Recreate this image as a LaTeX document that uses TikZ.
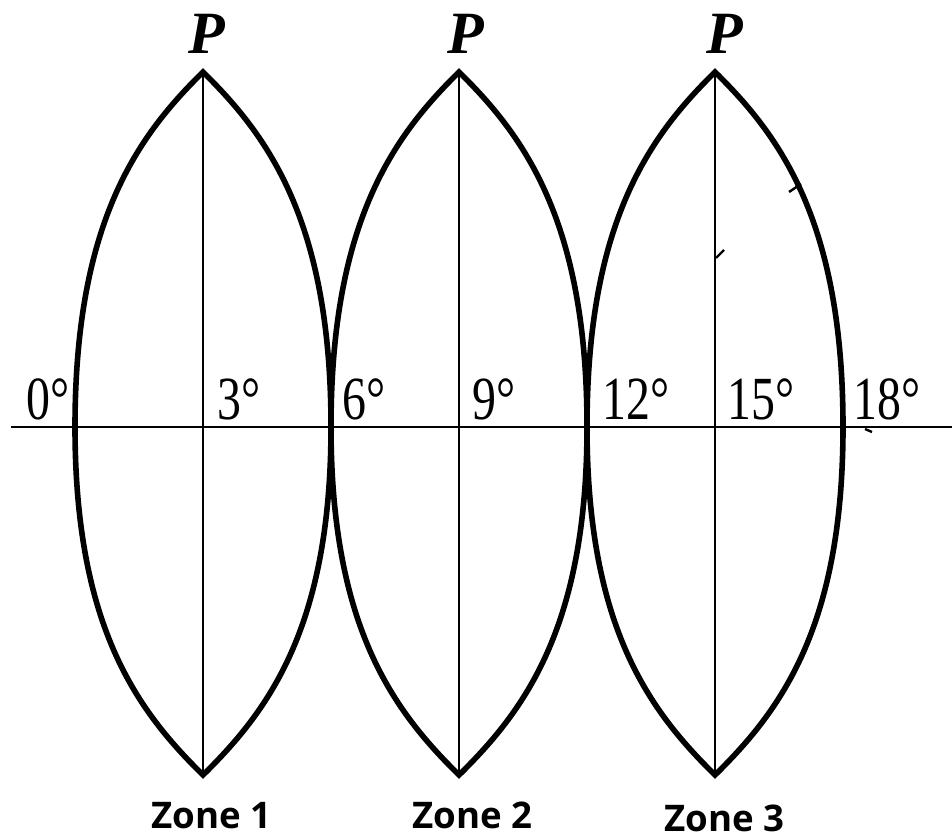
\documentclass[tikz,border=0pt]{standalone}
\usepackage{fontspec}
\usepackage{graphicx}
\setmainfont{Liberation Serif}
\newfontfamily\zonefont{Open Sans}
\begin{document}
\begin{tikzpicture}[x=0.75pt,y=-0.75pt,
  gore/.style={line width=4.2pt,line join=miter},
  thinline/.style={line width=1.7pt},
  deg/.style={anchor=base west,inner sep=0pt,font=\fontsize{46}{46}\selectfont},
  pole/.style={anchor=base west,inner sep=0pt,font=\fontsize{45}{45}\selectfont\bfseries\itshape},
  zone/.style={anchor=base west,inner sep=0pt,font=\fontsize{27.5}{27.5}\selectfont\zonefont\bfseries},
  speck/.style={line width=1.8pt}]
\useasboundingbox (0,0) rectangle (952,838);
\fill[white] (0,0) rectangle (952,838);
% equator
\coordinate (eqL) at (11,427);
\coordinate (eqR) at (952,427);
\draw[thinline] (eqL) -- (eqR);
% gores
\foreach \cx/\n in {203/1,459/2,715/3}{
  \coordinate (top\n) at (\cx,72);
  \coordinate (bot\n) at (\cx,775);
  \draw[thinline] (top\n) -- (bot\n);
  \draw[gore] (top\n)
     .. controls (\cx+64,135) and (\cx+128,220) .. (\cx+128,427)
     .. controls (\cx+128,629) and (\cx+64,712) .. (bot\n)
     .. controls (\cx-64,712) and (\cx-128,629) .. (\cx-128,427)
     .. controls (\cx-128,220) and (\cx-64,135) .. cycle;
}
% pole labels
\node[pole] (p1) at (188,54) {P};
\node[pole] (p2) at (447,54) {P};
\node[pole] (p3) at (706,54) {P};
% degree labels
\node[deg] (d0) at (26,419) {\scalebox{0.78}[1]{0°}};
\node[deg] (d3) at (217,419) {\scalebox{0.78}[1]{3°}};
\node[deg] (d6) at (342,419) {\scalebox{0.78}[1]{6°}};
\node[deg] (d9) at (472,419) {\scalebox{0.78}[1]{9°}};
\node[deg] (d12) at (602,419) {\scalebox{0.78}[1]{12°}};
\node[deg] (d15) at (727,419) {\scalebox{0.78}[1]{15°}};
\node[deg] (d18) at (853,419) {\scalebox{0.78}[1]{18°}};
% zone labels
\node[zone] (z1) at (151,828) {Zone 1};
\node[zone] (z2) at (412,828) {Zone 2};
\node[zone] (z3) at (664,831) {Zone 3};
% small specks of the scan
\coordinate (s1a) at (789,192); \coordinate (s1b) at (801,184);
\draw[speck] (s1a) -- (s1b);
\coordinate (s2a) at (716,258); \coordinate (s2b) at (724,250);
\draw[speck] (s2a) -- (s2b);
\coordinate (s3a) at (865,429); \coordinate (s3b) at (872,432);
\draw[speck] (s3a) -- (s3b);
\end{tikzpicture}
\end{document}
